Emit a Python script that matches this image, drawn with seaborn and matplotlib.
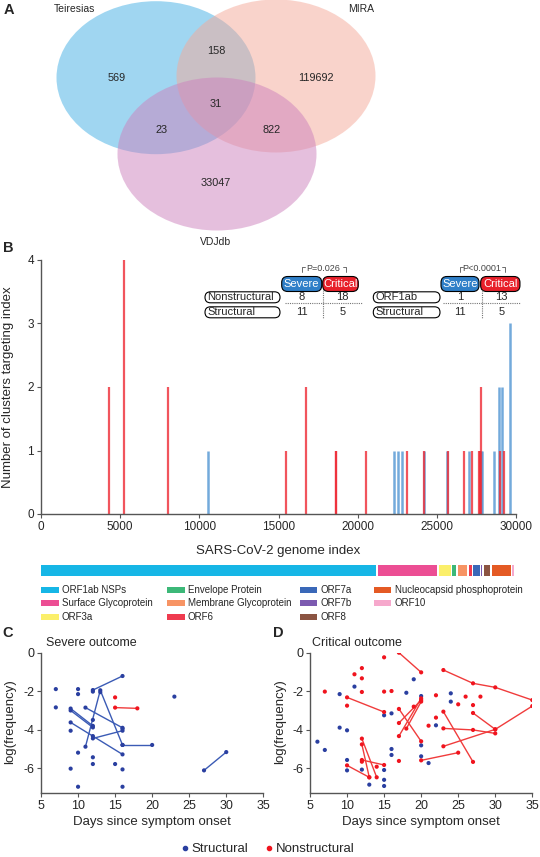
import matplotlib
matplotlib.use("Agg")
import pandas as pd
import matplotlib.pyplot as plt
import seaborn as sns
from matplotlib.patches import Ellipse, FancyBboxPatch, Rectangle
from matplotlib.lines import Line2D

sns.set_style("ticks")
plt.rcParams["font.family"] = ["Liberation Sans", "DejaVu Sans"]
plt.rcParams["axes.unicode_minus"] = False

W, H = 540, 857

# ---------------- data ----------------
# A: Venn
venn_names = ["Teiresias", "MIRA", "VDJdb"]
venn_regions = ["T", "TM", "M", "TMV", "TV", "MV", "V"]
venn_counts = [569, 158, 119692, 31, 23, 822, 33047]

# B: clusters per genome index
red_pos = [4290, 5250, 8020, 15490, 16710, 18600, 18660, 20545, 23115, 24160,
           25710, 26690, 27210, 27690, 27740, 27780, 29020, 29240]
red_height = [2, 4, 2, 1, 2, 1, 1, 1, 1, 1, 1, 1, 1, 1, 1, 2, 1, 1]
blue_pos = [10545, 22265, 22550, 22790, 24180, 25665, 27040, 27780, 27825,
            28605, 28910, 29085, 29590]
blue_height = [1, 1, 1, 1, 1, 1, 1, 1, 1, 1, 2, 2, 3]

table_cols = ["Severe", "Critical"]
table1_rows = ["Nonstructural", "Structural"]
table1_vals = [[8, 18], [11, 5]]
table1_p = "P=0.026"
table2_rows = ["ORF1ab", "Structural"]
table2_vals = [[1, 13], [11, 5]]
table2_p = "P<0.0001"

orf_names = ["ORF1ab NSPs", "Surface Glycoprotein", "ORF3a", "Envelope Protein",
             "Membrane Glycoprotein", "ORF6", "ORF7a", "ORF7b", "ORF8",
             "Nucleocapsid phosphoprotein", "ORF10"]
orf_start = [0, 21285, 25120, 25970, 26360, 27015, 27300, 27780, 27995, 28495, 29760]
orf_end = [21175, 25010, 25880, 26190, 26905, 27190, 27710, 27845, 28365, 29675, 29890]
orf_colors = ["#16b6e6", "#ec4e94", "#fbef6a", "#3cb878", "#f79464", "#ef3b4f",
              "#3a68b8", "#7c5ab0", "#8b5442", "#e45a24", "#f6a8cc"]

# C: severe outcome
c_s_day = [7, 7, 9, 9, 10, 10, 10, 10, 12, 12, 12, 12, 13, 15, 16, 16, 23, 16, 12]
c_s_val = [-1.89, -2.84, -4.05, -6.02, -1.89, -2.15, -5.19, -6.96, -2.02, -3.49,
           -5.43, -5.78, -2.05, -5.78, -6.06, -6.96, -2.28, -3.95, -4.33]
c_st_track = [1, 1, 2, 2, 2, 3, 3, 4, 4, 5, 5, 6, 6, 7, 7, 8, 8, 9, 9]
c_st_day = [12, 16, 11, 13, 16, 16, 20, 11, 16, 9, 12, 9, 16, 12, 16, 27, 30, 9, 12]
c_st_val = [-1.94, -1.21, -4.88, -1.95, -4.79, -4.79, -4.79, -2.85, -3.9, -2.9,
            -3.8, -3.62, -5.28, -4.45, -4.05, -6.11, -5.16, -3.0, -3.88]
c_n_day = [15]
c_n_val = [-2.32]
c_nt_track = [1, 1]
c_nt_day = [15, 18]
c_nt_val = [-2.85, -2.89]

# D: critical outcome
d_s_day = [6, 7, 9, 9, 10, 10, 10, 11, 12, 13, 15, 15, 15, 15, 16, 16, 16, 18, 19,
           20, 20, 20, 21, 22, 24, 24]
d_s_val = [-4.62, -5.05, -2.15, -3.89, -4.03, -5.57, -6.11, -1.76, -6.07, -6.85,
           -3.25, -6.09, -6.6, -6.92, -3.15, -5.0, -5.31, -2.08, -1.38, -2.25,
           -4.81, -5.38, -5.73, -3.77, -2.11, -2.54]
d_n_day = [7, 10, 11, 12, 12, 12, 14, 15, 15, 16, 17, 19, 21, 22, 22, 25, 26, 27, 28, 12]
d_n_val = [-2.02, -2.75, -1.12, -0.8, -1.33, -2.04, -5.92, -0.24, -2.02, -1.99,
           -5.62, -2.8, -3.79, -2.21, -3.37, -2.68, -2.28, -2.72, -2.28, -5.66]
d_nt_track = [1, 1, 2, 2, 2, 2, 3, 3, 4, 4, 5, 5, 6, 6, 7, 7, 8, 8, 9, 9,
              10, 10, 10, 11, 11, 11, 12, 12, 13, 13, 14, 14, 15, 15, 16, 16]
d_nt_day = [17, 20, 23, 27, 30, 35, 10, 15, 17, 20, 17, 20, 17, 20, 18, 20, 20, 25,
            23, 27, 23, 27, 30, 23, 30, 35, 27, 30, 12, 14, 12, 13, 12, 15, 10, 13]
d_nt_val = [0.0, -1.02, -0.9, -1.59, -1.8, -2.46, -2.32, -3.08, -2.92, -4.6,
            -3.65, -2.46, -4.33, -2.37, -3.94, -2.54, -5.59, -5.19, -3.06, -5.67,
            -3.93, -4.01, -4.19, -4.86, -3.98, -2.77, -3.13, -3.98, -4.46, -6.47,
            -4.76, -6.47, -5.57, -5.83, -5.85, -6.47]

BLUE_DOT, RED_DOT = "#2a3fa0", "#f0141e"
BLUE_LINE, RED_LINE = "#3b5bb5", "#f03c3c"

fig = plt.figure(figsize=(W / 100, H / 100), dpi=100)


def px_axes(x0, y0, x1, y1):
    return fig.add_axes([x0 / W, 1 - y1 / H, (x1 - x0) / W, (y1 - y0) / H])


def style_axis(ax, size):
    sns.despine(ax=ax)
    for s in ["left", "bottom"]:
        ax.spines[s].set_color("#555555")
        ax.spines[s].set_linewidth(1)
    ax.tick_params(direction="out", length=3, width=0.8, color="#555555",
                   labelsize=size, pad=2)


# ---------------- B ----------------
axb = px_axes(41, 260, 516, 514)
axb.vlines(blue_pos, 0, blue_height, color="#5b9bd5", alpha=0.85, lw=1.8)
axb.vlines(red_pos, 0, red_height, color="#ee2a35", alpha=0.8, lw=1.6)
axb.set_xlim(0, 30000)
axb.set_ylim(0, 4)
axb.set_xticks(range(0, 30001, 5000))
axb.set_yticks(range(0, 5))
style_axis(axb, 8.5)
fig.text(8 / W, 1 - 387 / H, "Number of clusters targeting index", rotation=90,
         ha="center", va="center", fontsize=9.5)
fig.text(278 / W, 1 - 551 / H, "SARS-CoV-2 genome index", ha="center", va="center",
         fontsize=9.5)

# genome bar
axg = px_axes(41, 565, 516, 576)
for s, e, c in zip(orf_start, orf_end, orf_colors):
    axg.barh(0, e - s, left=s, height=1, color=c, linewidth=0)
axg.set_xlim(0, 30000)
axg.set_ylim(-0.5, 0.5)
axg.axis("off")

# ---------------- C / D ----------------
def outcome_panel(ax, s_day, s_val, n_day, n_val, st, n_t):
    for tr, col in [(st, BLUE_LINE), (n_t, RED_LINE)]:
        if tr is None:
            continue
        sns.lineplot(data=tr, x="day", y="val", units="track", estimator=None,
                     sort=False, color=col, lw=1, ax=ax, legend=False)
    pts = pd.DataFrame({"day": s_day + n_day, "val": s_val + n_val,
                        "kind": ["Structural"] * len(s_day) + ["Nonstructural"] * len(n_day)})
    for tr, kind in [(st, "Structural"), (n_t, "Nonstructural")]:
        if tr is not None:
            pts = pd.concat([pts, tr.assign(kind=kind)[["day", "val", "kind"]]])
    sns.scatterplot(data=pts, x="day", y="val", hue="kind",
                    palette={"Structural": BLUE_DOT, "Nonstructural": RED_DOT},
                    s=9, linewidth=0, ax=ax, legend=False, zorder=3)
    ax.set_xlim(5, 35)
    ax.set_ylim(-7.3, 0)
    ax.set_xticks(range(5, 36, 5))
    ax.set_yticks([0, -2, -4, -6])
    ax.set_xlabel("")
    ax.set_ylabel("")
    style_axis(ax, 9)


c_st = pd.DataFrame({"track": c_st_track, "day": c_st_day, "val": c_st_val})
c_nt = pd.DataFrame({"track": c_nt_track, "day": c_nt_day, "val": c_nt_val})
d_nt = pd.DataFrame({"track": d_nt_track, "day": d_nt_day, "val": d_nt_val})

axc = px_axes(41, 652.7, 263.3, 793.3)
outcome_panel(axc, c_s_day, c_s_val, c_n_day, c_n_val, c_st, c_nt)
axd = px_axes(310, 652.7, 532.3, 793.3)
outcome_panel(axd, d_s_day, d_s_val, d_n_day, d_n_val, None, d_nt)

for x0, title, cx in [(45.7, "Severe outcome", 152), (311.7, "Critical outcome", 421)]:
    fig.text(x0 / W, 1 - 643 / H, title, ha="left", va="center", fontsize=9)
    fig.text(cx / W, 1 - 822 / H, "Days since symptom onset", ha="center",
             va="center", fontsize=9.5)
for xl in [10, 280]:
    fig.text(xl / W, 1 - 722 / H, "log(frequency)", rotation=90, ha="center",
             va="center", fontsize=9.5)

leg_h = [Line2D([], [], marker="o", ls="", color=BLUE_DOT, markersize=3, label="Structural"),
         Line2D([], [], marker="o", ls="", color=RED_DOT, markersize=3, label="Nonstructural")]
fig.legend(handles=leg_h, loc="center", bbox_to_anchor=(267 / W, 1 - 849 / H), ncol=2,
           frameon=False, fontsize=9.5, handletextpad=0.1, columnspacing=1.2,
           handlelength=0.8)

# ---------------- overlay: Venn, tables, legend, letters ----------------
ov = fig.add_axes([0, 0, 1, 1], zorder=10)
ov.set_xlim(0, W)
ov.set_ylim(H, 0)
ov.axis("off")
ov.patch.set_alpha(0)

venn_shapes = [((156, 77.7), "#61bce9", 0.6), ((276, 76), "#f5a999", 0.5),
               ((217, 154), "#cd81bd", 0.5)]
for (cxy, col, a) in venn_shapes:
    ov.add_patch(Ellipse(cxy, 199, 153, facecolor=col, alpha=a, linewidth=0))
venn_name_xy = [(74.7, 8.6), (361.6, 8.6), (216, 242)]
for n, (x, y) in zip(venn_names, venn_name_xy):
    ov.text(x, y, n, ha="center", va="center", fontsize=7.5)
region_xy = {"T": (117, 78), "TM": (216, 51), "M": (316, 78), "TMV": (216, 104),
             "TV": (162, 130), "MV": (272, 130), "V": (216, 182.5)}
for r, c in zip(venn_regions, venn_counts):
    x, y = region_xy[r]
    ov.text(x, y, str(c), ha="center", va="center", fontsize=7.8)


def draw_table(rows, vals, pval, row_x0, row_x1, col_x, col_w, val_x, div_x, hline_x):
    top = 284
    p_mid = (col_x[0] + col_x[1]) / 2 + 2
    ov.text(p_mid, 268.5, pval, ha="center", va="center", fontsize=6.5, color="#444444")
    ov.plot([col_x[0], col_x[0], col_x[0] + 3], [272, 267, 267], color="#555555", lw=0.6)
    ov.plot([col_x[1] + 2, col_x[1] + 5, col_x[1] + 5], [267, 267, 272], color="#555555", lw=0.6)
    for name, cx, w, fc in zip(table_cols, col_x, col_w, ["#2f7fc8", "#e8202a"]):
        ov.add_patch(FancyBboxPatch((cx - w / 2, top - 7.5), w, 15,
                                    boxstyle="round,pad=0,rounding_size=6",
                                    facecolor=fc, edgecolor="black", lw=0.8))
        ov.text(cx, top, name, ha="center", va="center", fontsize=8, color="white")
    for i, (rname, rv) in enumerate(zip(rows, vals)):
        yc = 297.3 + i * 15
        ov.add_patch(FancyBboxPatch((row_x0, yc - 5.5), row_x1 - row_x0, 11,
                                    boxstyle="round,pad=0,rounding_size=5.5",
                                    facecolor="white", edgecolor="black", lw=0.8))
        ov.text(row_x0 + 2.5, yc, rname, ha="left", va="center", fontsize=8)
        for vx, v in zip(val_x, rv):
            ov.text(vx, yc, str(v), ha="center", va="center", fontsize=8)
    ov.plot(hline_x, [303, 303], color="#777777", lw=0.8, ls=(0, (1, 1)))
    ov.plot([div_x, div_x], [290, 318], color="#777777", lw=0.8, ls=(0, (1, 1)))


draw_table(table1_rows, table1_vals, table1_p, 205, 280, [301.7, 340.5], [40, 35.6],
           [301.7, 342.3], 322.7, [285, 361.7])
draw_table(table2_rows, table2_vals, table2_p, 373.3, 440, [460, 500.3], [38, 39.3],
           [460, 501.7], 481.7, [443, 520])

# ORF legend, fixed column positions
leg_cols_x = [41, 167, 299.6, 373.6]
leg_rows_y = [589.6, 603.3, 617.0]
for i, (name, col) in enumerate(zip(orf_names, orf_colors)):
    x = leg_cols_x[i // 3]
    y = leg_rows_y[i % 3]
    ov.add_patch(Rectangle((x, y - 3), 17.5, 6, facecolor=col, linewidth=0))
    ov.text(x + 21, y, name, ha="left", va="center", fontsize=7)

for letter, x, y in [("A", 8.6, 10.3), ("B", 8.6, 248), ("C", 8, 633), ("D", 278, 633)]:
    ov.text(x, y, letter, ha="center", va="center", fontsize=10.5, fontweight="bold")

fig.savefig("out.png", dpi=100)
